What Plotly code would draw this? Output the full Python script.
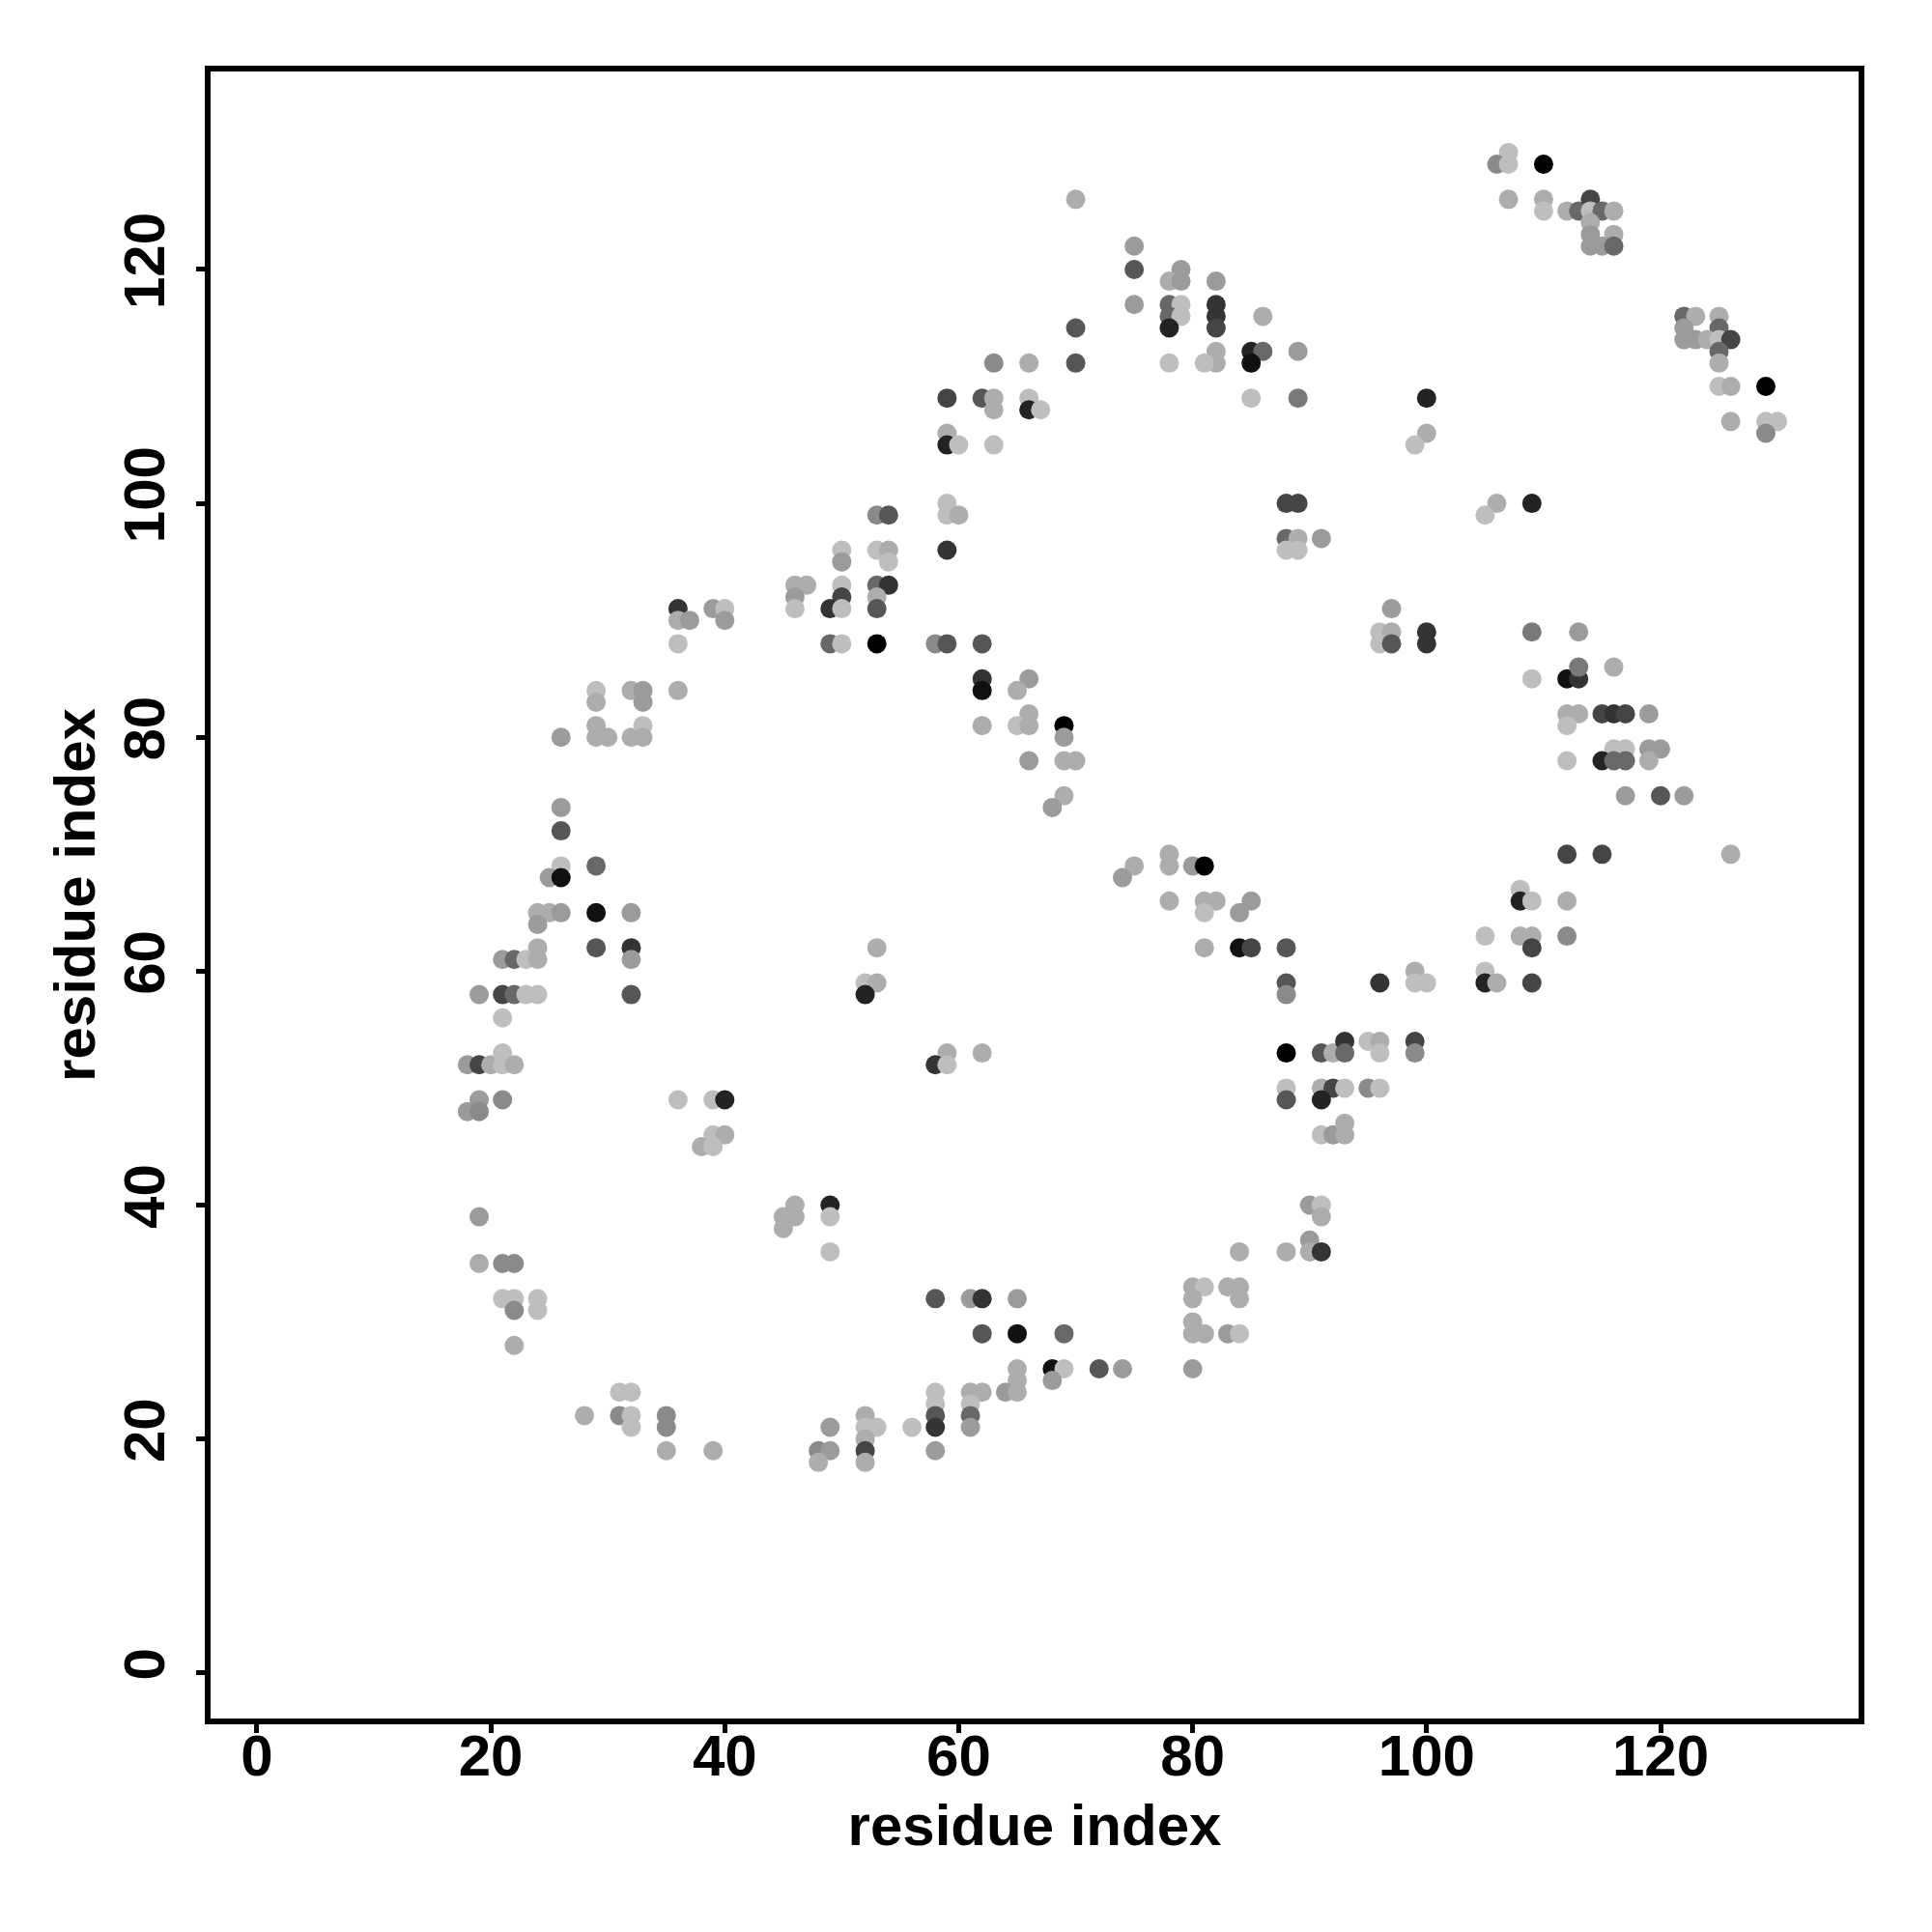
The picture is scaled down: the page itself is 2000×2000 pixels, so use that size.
import plotly.graph_objects as go

# residue pairs (i, j) in contact and confidence level (0 = lightest grey, 11 = black)
res_i = [
    70,75,75,75,70,70,63,66,59,62,63,63,66,66,67,59,59,60,63,59,59,60,59,88,89,88,89,88,89,91,79,78,79,82,78,79,78,79,78,82,82,82,86,82,82,81,78,85,86,85,89,85,89,
    107,106,107,110,107,110,110,112,113,114,114,115,116,114,114,116,114,115,116,122,123,125,122,125,122,123,124,125,126,125,125,125,126,129,126,129,130,129,100,100,99,106,105,109,
    53,54,50,50,53,54,54,46,47,50,53,54,
    46,46,50,49,50,53,53,49,50,53,36,36,37,39,40,40,36,36,29,29,32,33,33,29,29,30,32,33,33,26,26,26,26,25,26,29,24,25,26,24,29,32,24,21,22,23,24,29,32,32,19,21,22,23,24,32,21,53,52,53,52,
    58,59,62,62,62,66,65,66,62,65,66,69,69,66,69,70,69,68,75,74,78,78,80,81,78,81,82,81,84,85,81,84,85,88,88,88,
    97,96,97,96,97,100,100,109,113,109,112,113,113,116,112,113,112,115,116,117,119,116,117,119,120,112,115,116,117,119,117,120,122,112,115,126,108,108,109,112,105,108,109,109,112,96,99,99,100,105,105,106,109,
    18,19,20,21,21,22,19,18,19,21,36,39,40,39,40,38,39,46,45,46,45,49,49,49,19,19,21,22,21,22,22,24,24,22,31,32,28,31,32,32,35,35,35,39,49,48,49,48,52,52,53,52,52,52,56,
    59,62,58,59,88,91,92,93,93,95,88,88,91,92,93,91,95,96,91,92,93,93,90,91,91,90,90,91,88,84,80,81,80,83,84,84,80,80,81,83,84,80,58,61,62,65,62,65,69,65,65,64,65,68,69,68,72,74,58,58,58,58,58,61,62,61,61,61,96,96,99,99,
]
res_j = [
    126,122,120,117,115,112,112,112,109,109,109,108,109,108,108,106,105,105,105,100,99,99,96,100,100,97,97,96,96,97,120,119,119,119,117,117,116,116,115,117,116,115,116,113,112,112,112,113,113,112,113,109,109,
    130,129,129,129,126,126,125,125,125,126,125,125,125,124,123,123,122,122,122,116,116,116,115,115,114,114,114,114,114,113,112,110,110,110,107,107,107,106,109,106,105,100,99,100,
    99,99,96,95,96,96,95,93,93,93,93,93,
    92,91,92,91,91,92,91,88,88,88,91,90,90,91,91,90,88,84,84,83,84,84,83,81,80,80,80,81,80,80,74,72,69,68,68,69,65,65,65,64,65,65,62,61,61,61,61,62,62,61,58,58,58,58,58,58,56,62,59,59,58,
    88,88,88,85,84,85,84,82,81,81,81,81,80,78,78,78,75,74,69,68,70,69,69,69,66,66,66,65,65,66,62,62,62,62,59,58,
    91,89,89,88,88,89,88,89,89,85,85,85,86,86,82,82,81,82,82,82,82,79,79,79,79,78,78,78,78,78,75,75,75,70,70,70,67,66,66,66,63,63,63,62,63,59,60,59,59,60,59,59,59,
    52,52,52,53,52,52,49,48,48,49,49,49,49,46,46,45,45,40,39,39,38,40,39,36,39,35,35,35,32,32,31,32,31,28,24,24,22,22,22,21,22,21,19,19,21,19,19,18,22,21,21,20,19,18,21,
    53,53,52,52,53,53,53,54,53,54,50,49,50,50,50,49,50,50,46,46,47,46,40,40,39,37,36,36,36,36,33,33,32,33,33,32,30,29,29,29,29,26,32,32,32,32,29,29,29,26,25,24,24,26,26,25,26,26,24,23,22,21,19,24,24,23,22,21,54,53,54,53,
]
level = [
    1,2,6,2,6,6,3,1,7,6,1,1,0,9,0,1,9,0,0,0,0,1,8,7,7,5,1,0,0,2,2,1,2,2,5,0,5,0,9,8,8,7,1,1,1,0,0,9,5,10,2,0,4,
    0,3,0,11,1,1,0,1,5,7,0,5,1,1,2,1,2,2,5,5,1,1,2,5,2,2,1,0,7,5,1,0,1,11,1,0,0,3,9,1,0,1,0,9,
    3,6,0,2,0,1,0,1,1,0,5,8,
    2,0,7,8,0,1,6,5,0,11,8,1,2,2,0,2,0,1,0,1,1,2,2,1,1,1,1,0,1,2,2,6,0,2,10,5,1,1,2,2,10,2,1,2,5,0,1,6,8,2,2,7,5,0,0,6,0,1,0,1,9,
    3,6,6,8,10,2,1,1,1,0,1,11,2,2,1,1,1,2,1,2,1,1,2,11,1,1,1,0,2,2,1,10,7,6,6,3,
    2,0,1,0,6,8,8,4,2,0,10,8,4,1,1,1,0,7,8,7,2,0,0,2,2,0,9,5,5,1,2,6,2,7,7,1,0,9,0,1,0,1,1,7,3,8,1,0,0,0,9,1,7,
    2,7,1,0,0,1,2,2,3,3,0,0,9,0,1,1,0,1,1,1,1,9,0,0,2,1,3,3,0,0,3,0,0,1,0,0,1,3,0,0,3,3,1,1,2,3,2,1,1,0,0,1,7,1,0,
    1,1,8,0,11,6,1,8,5,0,0,6,1,7,0,9,3,0,0,2,1,1,2,0,1,2,1,8,1,1,1,0,1,1,1,1,1,1,1,2,0,2,6,2,8,2,6,10,5,1,1,2,1,10,0,2,6,2,0,0,6,8,2,1,1,0,5,2,1,0,7,3,
]
tick_vals = [0, 20, 40, 60, 80, 100, 120]
axis_title = "residue index"

fig = go.Figure()
fig.add_trace(go.Scatter(
    x=res_i, y=res_j, mode="markers",
    marker=dict(size=20, color=level, cmin=0, cmax=11,
                colorscale=[[0, "rgb(190,190,190)"], [1, "rgb(0,0,0)"]],
                line=dict(width=0), opacity=1),
    showlegend=False, hoverinfo="skip",
))

font_main = dict(family="Liberation Sans, Arial, Helvetica, sans-serif", size=60, color="black", weight="bold")
axis_common = dict(
    tickvals=tick_vals, ticktext=[str(v) for v in tick_vals],
    showgrid=False, zeroline=False, showline=True, linecolor="black", linewidth=5.5,
    mirror=True, ticks="outside", ticklen=9, tickwidth=4.5, tickcolor="black",
    tickfont=font_main,
)
fig.update_layout(
    width=2000, height=2000,
    margin=dict(l=210, r=84, t=66, b=229),
    paper_bgcolor="white", plot_bgcolor="white",
    xaxis=dict(**axis_common, range=[-3.96, 136.93], ticklabelstandoff=-28,
               title=dict(text=axis_title, font=font_main, standoff=20)),
    yaxis=dict(**axis_common, range=[-3.9, 136.93], tickangle=-90, ticklabelstandoff=9,
               title=dict(text=axis_title, font=font_main, standoff=0)),
)
fig.write_html("out.html")
